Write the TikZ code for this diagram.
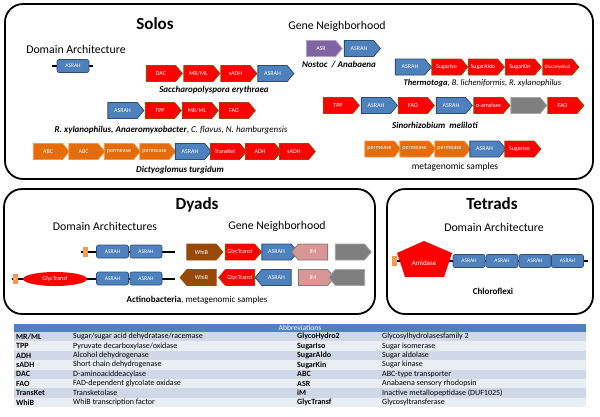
\documentclass[tikz,border=0pt]{standalone}
\usepackage{fontspec}
\setmainfont{Carlito}
\usetikzlibrary{positioning,shapes.symbols,shapes.geometric}

\definecolor{asrahblue}{HTML}{4F81BD}
\definecolor{asrahdark}{HTML}{2C4D75}
\definecolor{rimbrown}{HTML}{984807}
\definecolor{genorange}{HTML}{E46C0A}
\definecolor{rimorange}{HTML}{F79646}
\definecolor{asrpurple}{HTML}{8064A2}
\definecolor{rimpurple}{HTML}{B3A2C7}
\definecolor{gengrey}{HTML}{7F7F7F}
\definecolor{rimgrey}{HTML}{A6A6A6}
\definecolor{impink}{HTML}{D99694}
\definecolor{rowdark}{HTML}{D0D8E8}
\definecolor{rowlight}{HTML}{E9EDF4}

\tikzset{
  gene/.style={signal, signal to=east, signal pointer angle=100,
    minimum width=36pt, minimum height=16pt, inner sep=0pt,
    line width=0.8pt, text=white, font=\fontsize{6}{7}\selectfont},
  backgene/.style={gene, signal to=west},
  bluegene/.style={fill=asrahblue, draw=asrahdark},
  redgene/.style={fill=red, draw=rimbrown},
  orangegene/.style={fill=genorange, draw=rimorange},
  purplegene/.style={fill=asrpurple, draw=rimpurple},
  greygene/.style={fill=gengrey, draw=rimgrey},
  browngene/.style={fill=rimbrown, draw=rimbrown},
  pinkgene/.style={fill=impink, draw=gengrey},
  dombox/.style={rectangle, rounded corners=2pt, fill=asrahblue, draw=asrahdark,
    line width=0.6pt, minimum width=32pt, minimum height=13pt, inner sep=0pt,
    text=white, font=\fontsize{5.5}{6}\selectfont},
  sigpep/.style={rectangle, fill=rimorange, minimum width=5pt, minimum height=10pt,
    inner sep=0pt, text=white, font=\fontsize{4}{4}\selectfont},
  panel/.style={line width=1.8pt, rounded corners=18pt},
  bigtitle/.style={font=\bfseries\fontsize{17}{20}\selectfont},
  heading/.style={font=\fontsize{11.8}{13}\selectfont},
  species/.style={font=\fontsize{9}{10}\selectfont},
  tabtext/.style={anchor=west, inner sep=0pt, font=\fontsize{8}{8.5}\selectfont},
  stalk/.style={line width=1.5pt}
}

\newcommand{\abbrrow}[6]{%
  \fill[#2] (14,{332+9.4*#1}) rectangle (586,{341.4+9.4*#1});
  \node[tabtext] (ka#1) at (16,{336.7+9.4*#1}) {\textbf{#3}};
  \node[tabtext] (va#1) at (73,{336.7+9.4*#1}) {#4};
  \node[tabtext] (kb#1) at (297,{336.7+9.4*#1}) {\textbf{#5}};
  \node[tabtext] (vb#1) at (382,{336.7+9.4*#1}) {#6};
}

\begin{document}
\begin{tikzpicture}[x=1pt,y=-1pt]
  \useasboundingbox (0,0) rectangle (600,416);
  \fill[white] (0,0) rectangle (600,416);

  % Panels
  \draw[panel] (5,4) rectangle (593,179);
  \draw[panel] (4,189) rectangle (375,314);
  \draw[panel] (387,189) rectangle (593,314);

  % Solos
  \node[bigtitle] (solos) at (155,24) {Solos};
  \node[heading] (solosda) at (76,49) {Domain Architecture};
  \node[heading] (solosgn) at (337,26) {Gene Neighborhood};

  \coordinate (soloL) at (52,66);
  \coordinate (soloR) at (93,66);
  \draw[stalk] (soloL) -- (soloR);
  \node[dombox] (solo) at (73,66) {ASRAH};

  % Saccharopolyspora
  \node[gene,redgene] (sac1) at (161,73.5) {DAC};
  \node[gene,redgene] (sac2) at (198.5,73.5) {MR/ML};
  \node[gene,redgene] (sac3) at (235.5,73.5) {sADH};
  \node[gene,bluegene] (sac4) at (272.5,73.5) {ASRAH};
  \node[species] (saclab) at (214,90) {\textbf{\textit{Saccharopolyspora erythraea}}};

  % Nostoc / Anabaena
  \node[gene,purplegene] (nos1) at (321,48.5) {ASR};
  \node[gene,bluegene] (nos2) at (359,48.5) {ASRAH};
  \node[species] (noslab) at (339,65) {\textbf{\textit{Nostoc~~/ Anabaena}}};

  % Thermotoga
  \node[gene,bluegene] (the1) at (410,67) {ASRAH};
  \node[gene,redgene] (the2) at (446.5,67) {SugarIso};
  \node[gene,redgene] (the3) at (483,67) {SugarAldo};
  \node[gene,redgene] (the4) at (520,67) {SugarKin};
  \node[gene,redgene,font=\fontsize{5}{6}\selectfont] (the5) at (557.5,67) {GlycoHydro2};
  \node[species,font=\fontsize{8.6}{10}\selectfont] (thelab) at (482.5,83)
    {\textbf{\textit{Thermotoga}}, \textit{B. licheniformis, R. xylanophilus}};

  % R. xylanophilus
  \node[gene,bluegene] (rxy1) at (122.5,110.5) {ASRAH};
  \node[gene,redgene] (rxy2) at (160,110.5) {TPP};
  \node[gene,redgene] (rxy3) at (197,110.5) {MR/ML};
  \node[gene,redgene] (rxy4) at (234,110.5) {FAO};
  \node[species] (rxylab) at (171,130)
    {\textbf{\textit{R. xylanophilus, Anaeromyxobacter}}, \textit{C. flavus, N. hamburgensis}};

  % Dictyoglomus
  \begin{scope}[every node/.append style={minimum width=34pt}]
    \node[gene,orangegene] (dic1) at (48,151.5) {ABC};
    \node[gene,orangegene] (dic2) at (83.5,151.5) {ABC};
    \node[gene,orangegene] (dic3) at (119,151.5) {permease};
    \node[gene,orangegene] (dic4) at (154.5,151.5) {permease};
    \node[gene,bluegene] (dic5) at (190,151.5) {ASRAH};
    \node[gene,redgene] (dic6) at (225,151.5) {TransKet};
    \node[gene,redgene] (dic7) at (260,151.5) {ADH};
    \node[gene,redgene] (dic8) at (294,151.5) {sADH};
  \end{scope}
  \node[species] (diclab) at (180,170) {\textbf{\textit{Dictyoglomus turgidum}}};

  % Sinorhizobium
  \node[gene,redgene] (sin1) at (338,105.5) {TPP};
  \node[gene,bluegene] (sin2) at (376,105.5) {ASRAH};
  \node[gene,redgene] (sin3) at (413,105.5) {FAO};
  \node[gene,bluegene] (sin4) at (451,105.5) {ASRAH};
  \node[gene,redgene] (sin5) at (488.5,105.5) {α-amylase};
  \node[gene,greygene] (sin6) at (525.5,105.5) {};
  \node[gene,redgene] (sin7) at (562.5,105.5) {FAO};
  \node[species] (sinlab) at (435,125) {\textbf{\textit{Sinorhizobium~~meliloti}}};

  % metagenomic samples
  \begin{scope}[every node/.append style={minimum width=34pt}]
    \node[gene,orangegene] (met1) at (379.5,149) {permease};
    \node[gene,orangegene] (met2) at (414.5,149) {permease};
    \node[gene,orangegene] (met3) at (449.5,149) {permease};
    \node[gene,bluegene] (met4) at (484.5,149) {ASRAH};
    \node[gene,redgene] (met5) at (519.5,149) {SugarIso};
  \end{scope}
  \node[species,font=\fontsize{9.5}{10}\selectfont] (metlab) at (455,167) {metagenomic samples};

  % Dyads
  \node[bigtitle] (dyads) at (197,205) {Dyads};
  \node[heading] (dyadsda) at (105,226) {Domain Architectures};
  \node[heading] (dyadsgn) at (277,226) {Gene Neighborhood};

  \coordinate (dy1L) at (81,252);
  \coordinate (dy1R) at (175,252);
  \draw[stalk] (dy1L) -- (dy1R);
  \node[sigpep] (dy1s) at (85,252) {S};
  \node[dombox] (dy1a) at (112.5,251.5) {ASRAH};
  \node[dombox] (dy1b) at (146,251.5) {ASRAH};

  \coordinate (dy2L) at (12,279);
  \coordinate (dy2R) at (175,279);
  \draw[stalk] (dy2L) -- (dy2R);
  \node[sigpep] (dy2s) at (15,279) {S};
  \node[ellipse, fill=red, minimum width=64pt, minimum height=14pt, inner sep=0pt,
    text=white, font=\fontsize{6}{7}\selectfont] (dy2g) at (55,279) {GlycTransf};
  \node[dombox] (dy2a) at (112.5,278.5) {ASRAH};
  \node[dombox] (dy2b) at (146,278.5) {ASRAH};

  \begin{scope}[every node/.append style={minimum width=35pt, minimum height=17pt}]
    \node[gene,browngene] (wa1) at (201.5,252) {WhiB};
    \node[gene,redgene] (wa2) at (240,252) {GlycTransf};
    \node[gene,bluegene] (wa3) at (276.5,252) {ASRAH};
    \node[backgene,pinkgene] (wa4) at (313,252) {IM};
    \node[gene,greygene] (wa5) at (350,252) {};

    \node[backgene,browngene] (wb1) at (201.5,277.5) {WhiB};
    \node[backgene,redgene] (wb2) at (240,277.5) {GlycTransf};
    \node[backgene,bluegene] (wb3) at (276.5,277.5) {ASRAH};
    \node[gene,pinkgene] (wb4) at (313,277.5) {IM};
    \node[backgene,greygene] (wb5) at (350,277.5) {};
  \end{scope}
  \node[species] (dyalab) at (197,300)
    {\textbf{Actinobacteria}, metagenomic samples};

  % Tetrads
  \node[bigtitle] (tetrads) at (492,204) {Tetrads};
  \node[heading] (tetda) at (494,227) {Domain Architecture};

  \coordinate (teL) at (392,261);
  \coordinate (teR) at (588,261);
  \draw[stalk] (teL) -- (teR);
  \node[sigpep] (tes) at (394.5,261) {S};
  \fill[red] (424,241) -- (452,253) -- (444,277) -- (405,277) -- (397,253) -- cycle;
  \node[text=white, font=\fontsize{7}{8}\selectfont] (amid) at (424,263) {Amidase};
  \node[dombox] (tea1) at (469,261) {ASRAH};
  \node[dombox] (tea2) at (502,261) {ASRAH};
  \node[dombox] (tea3) at (535,261) {ASRAH};
  \node[dombox] (tea4) at (567.5,261) {ASRAH};
  \node[font=\bfseries\fontsize{9}{10}\selectfont] (chlor) at (493,291) {Chloroflexi};

  % Abbreviations table
  \fill[asrahblue] (14,324) rectangle (586,332);
  \node[text=white, font=\fontsize{7.6}{8}\selectfont] (abbr) at (300,328) {Abbreviations};
  \abbrrow{0}{rowdark}{MR/ML}{Sugar/sugar acid dehydratase/racemase}{GlycoHydro2}{Glycosylhydrolasesfamily 2}
  \abbrrow{1}{rowlight}{TPP}{Pyruvate decarboxylase/oxidase}{SugarIso}{Sugar isomerase}
  \abbrrow{2}{rowdark}{ADH}{Alcohol dehydrogenase}{SugarAldo}{Sugar aldolase}
  \abbrrow{3}{rowlight}{sADH}{Short chain dehydrogenase}{SugarKin}{Sugar kinase}
  \abbrrow{4}{rowdark}{DAC}{D-aminoaciddeacylase}{ABC}{ABC-type transporter}
  \abbrrow{5}{rowlight}{FAO}{FAD-dependent glycolate oxidase}{ASR}{Anabaena sensory rhodopsin}
  \abbrrow{6}{rowdark}{TransKet}{Transketolase}{iM}{Inactive metallopeptidase (DUF1025)}
  \abbrrow{7}{rowlight}{WhiB}{WhiB transcription factor}{GlycTransf}{Glycosyltransferase}
\end{tikzpicture}
\end{document}
